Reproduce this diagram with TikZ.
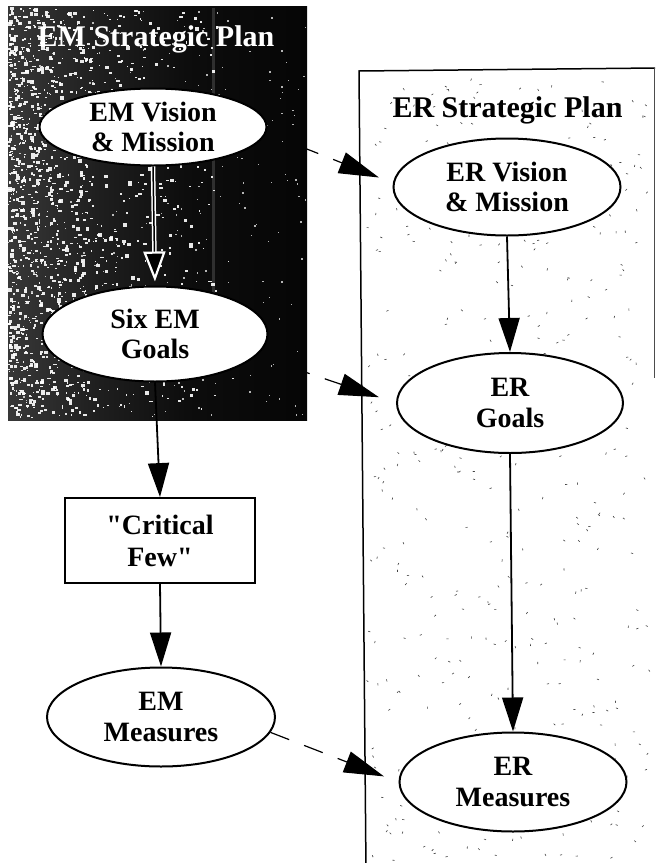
\documentclass[tikz,border=0pt]{standalone}
\usepackage{fontspec}
\setmainfont{Liberation Serif}[Ligatures=TeXOff]
\usetikzlibrary{arrows.meta,shapes.geometric}
\pgfdeclarelayer{under}
\pgfdeclarelayer{boxes}
\pgfsetlayers{under,boxes,main}
\pgfdeclarehorizontalshading{darktex}{100bp}{color(0bp)=(black!78); color(25bp)=(black!78); color(40bp)=(black!88); color(55bp)=(black!95); color(75bp)=(black!98); color(100bp)=(black!98)}
\begin{document}
\begin{tikzpicture}[x=1pt,y=-1pt,
  oval/.style={ellipse, draw=black, line width=2pt, fill=white, inner sep=0pt, align=center, font=\fontsize{28}{30.5}\selectfont\bfseries},
  rectbox/.style={rectangle, draw=black, line width=1.8pt, fill=white, inner sep=0pt, align=center, font=\fontsize{28}{32}\selectfont\bfseries},
  flow/.style={line width=1.8pt, -{Triangle[length=34pt,width=21pt]}},
  link/.style={line width=1.2pt, dash pattern=on 20pt off 16pt, -{Triangle[length=40pt,width=22pt]}},
  plantitle/.style={font=\fontsize{30}{32}\selectfont\bfseries, anchor=base, inner sep=0pt},
  planframe/.style={line width=1.5pt, draw=black}]
\useasboundingbox (0,0) rectangle (657,863);

% nodes
\node[oval, minimum width=227pt, minimum height=77pt] (emvm) at (153,127) {EM Vision\\\& Mission};
\node[oval, minimum width=225pt, minimum height=95pt] (sixg) at (155,334) {Six EM\\Goals};
\node[rectbox, minimum width=190pt, minimum height=85pt] (crit) at (160,540.5) {"Critical\\Few"};
\node[oval, minimum width=228pt, minimum height=99pt] (emm) at (161,717) {EM\\Measures};
\node[oval, minimum width=227pt, minimum height=97pt] (ervm) at (507,187) {ER Vision\\\& Mission};
\node[oval, minimum width=226pt, minimum height=100pt] (ergo) at (510,403) {ER\\Goals};
\node[oval, minimum width=227pt, minimum height=99pt] (erm) at (513,782) {ER\\Measures};

\node[plantitle, text=white] (emtitle) at (156,46.5) {EM Strategic Plan};
\node[plantitle, text=black] (ertitle) at (507.5,117) {ER Strategic Plan};

% background layers
\begin{pgfonlayer}{under}
  \fill[white] (0,0) rectangle (657,863);
  \draw[link, shorten >=15pt] (emvm.-3) -- (ervm.178);
  \draw[link, shorten >=18pt] (sixg.-12) -- (ergo.west);
  \draw[link, shorten >=15.5pt] (emm.-8) -- (erm.west);
\end{pgfonlayer}

\begin{pgfonlayer}{boxes}
  % EM plan: dark textured box
  \shade[shading=darktex] (8,6) rectangle (307,420);
  \pgfmathsetseed{11}
  \foreach \i in {1,...,1400}{
    \pgfmathsetmacro{\xx}{8+230*rnd*rnd}
    \pgfmathsetmacro{\yy}{7+410*rnd}
    \pgfmathsetmacro{\ss}{0.8+3.2*rnd}
    \fill[white, opacity=0.9] (\xx,\yy) rectangle ++(\ss,\ss*rnd+0.8);
  }
  \foreach \i in {1,...,260}{
    \pgfmathsetmacro{\xx}{8+297*rnd}
    \pgfmathsetmacro{\yy}{7+410*rnd}
    \pgfmathsetmacro{\ss}{0.6+1.4*rnd}
    \fill[white, opacity=0.7] (\xx,\yy) rectangle ++(\ss,\ss);
  }
  \fill[white, opacity=0.15] (212,8) rectangle (214.5,300);
  % ER plan frame with light speckles
  \pgfmathsetseed{5}
  \foreach \i in {1,...,420}{
    \pgfmathsetmacro{\xx}{368+282*rnd}
    \pgfmathsetmacro{\yy}{76+785*rnd}
    \pgfmathsetmacro{\aa}{360*rnd}
    \draw[black!75, line width=0.6pt] (\xx,\yy) -- ++(\aa:2.2);
  }
  \draw[planframe] (366,871) -- (359,71) -- (655,68);
  \draw[line width=0.8pt, black!70] (654,68) -- (654,378);
\end{pgfonlayer}

% flow arrows
\draw[white, line width=4.5pt, shorten >=32pt] (emvm.south) -- (sixg.north);
\draw[black, line width=1.5pt, shorten >=4pt, -{Triangle[length=30pt,width=22pt,color=white,fill=black,line width=2.2pt]}] (emvm.south) -- (sixg.north);
\draw[flow] (sixg.south) -- (crit.north);
\draw[flow] (crit.south) -- (emm.north);
\draw[flow] (ervm.south) -- (ergo.north);
\draw[flow] (ergo.south) -- (erm.north);
\end{tikzpicture}
\end{document}
